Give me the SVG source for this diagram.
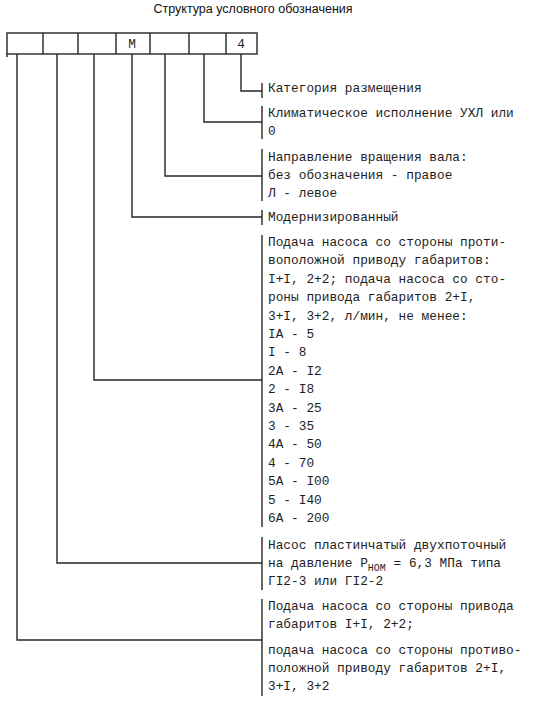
<svg xmlns="http://www.w3.org/2000/svg" width="548" height="701" viewBox="0 0 548 701">
<style>
.t{font-family:"Liberation Mono","DejaVu Sans Mono",monospace;font-size:12.8px;fill:#1e1e1e}
.ln{stroke:#262626;stroke-width:1.4;fill:none}
.title{font-family:"Liberation Sans",Arial,sans-serif;font-size:12.5px;fill:#111}
</style>
<rect width="548" height="701" fill="#fff"/>
<g id="title"><text class="title" x="253" y="13" text-anchor="middle">Структура условного обозначения</text></g>
<g id="code">
<rect class="ln" x="7" y="33" width="250" height="21"/>
<path class="ln" d="M7 54V57M43 33V54M78 33V54M116 33V54M150 33V54M189 33V54M226 33V54"/>
<text class="t" x="132" y="48" text-anchor="middle">М</text>
<text class="t" x="241" y="48" text-anchor="middle">4</text>
</g>
<g id="connectors">
<path class="ln" d="M241 54V91H262"/>
<path class="ln" d="M204 54V122H262"/>
<path class="ln" d="M165 54V176H262"/>
<path class="ln" d="M132 54V217H262"/>
<path class="ln" d="M94 54V380H262"/>
<path class="ln" d="M57 54V563H262"/>
<path class="ln" d="M17 54V640H262"/>
</g>
<g id="n-category">
<path class="ln" d="M262 83V98"/>
<text class="t" x="268" y="92">Категория размещения</text>
</g>
<g id="n-climate">
<path class="ln" d="M262 106V139"/>
<text class="t" x="268" y="117">Климатическое исполнение УХЛ или</text>
<text class="t" x="268" y="135">0</text>
</g>
<g id="n-rotation">
<path class="ln" d="M262 149V201"/>
<text class="t" x="268" y="161">Направление вращения вала:</text>
<text class="t" x="268" y="179">без обозначения - правое</text>
<text class="t" x="268" y="197">Л - левое</text>
</g>
<g id="n-modern">
<path class="ln" d="M262 210V225"/>
<text class="t" x="268" y="221">Модернизированный</text>
</g>
<g id="n-flow1">
<path class="ln" d="M262 235V527"/>
<text class="t" x="268" y="246">Подача насоса со стороны проти-</text>
<text class="t" x="268" y="264.4">воположной приводу габаритов:</text>
<text class="t" x="268" y="282.8">I+I, 2+2; подача насоса со сто-</text>
<text class="t" x="268" y="301.2">роны привода габаритов 2+I,</text>
<text class="t" x="268" y="319.6">3+I, 3+2, л/мин, не менее:</text>
<text class="t" x="268" y="338">IA - 5</text>
<text class="t" x="268" y="356.4">I - 8</text>
<text class="t" x="268" y="374.8">2A - I2</text>
<text class="t" x="268" y="393.2">2 - I8</text>
<text class="t" x="268" y="411.6">3A - 25</text>
<text class="t" x="268" y="430">3 - 35</text>
<text class="t" x="268" y="448.4">4A - 50</text>
<text class="t" x="268" y="466.8">4 - 70</text>
<text class="t" x="268" y="485.2">5A - I00</text>
<text class="t" x="268" y="503.6">5 - I40</text>
<text class="t" x="268" y="522">6A - 200</text>
</g>
<g id="n-pump">
<path class="ln" d="M262 537V590"/>
<text class="t" x="268" y="549">Насос пластинчатый двухпоточный</text>
<text class="t" x="268" y="567">на давление P<tspan dy="4" font-size="10">НОМ</tspan><tspan dy="-4"> = 6,3 МПа типа</tspan></text>
<text class="t" x="268" y="585">ГI2-3 или ГI2-2</text>
</g>
<g id="n-flow2">
<path class="ln" d="M262 599V696"/>
<text class="t" x="268" y="610">Подача насоса со стороны привода</text>
<text class="t" x="268" y="628">габаритов I+I, 2+2;</text>
<text class="t" x="268" y="654">подача насоса со стороны противо-</text>
<text class="t" x="268" y="672">положной приводу габаритов 2+I,</text>
<text class="t" x="268" y="690">3+I, 3+2</text>
</g>
</svg>
